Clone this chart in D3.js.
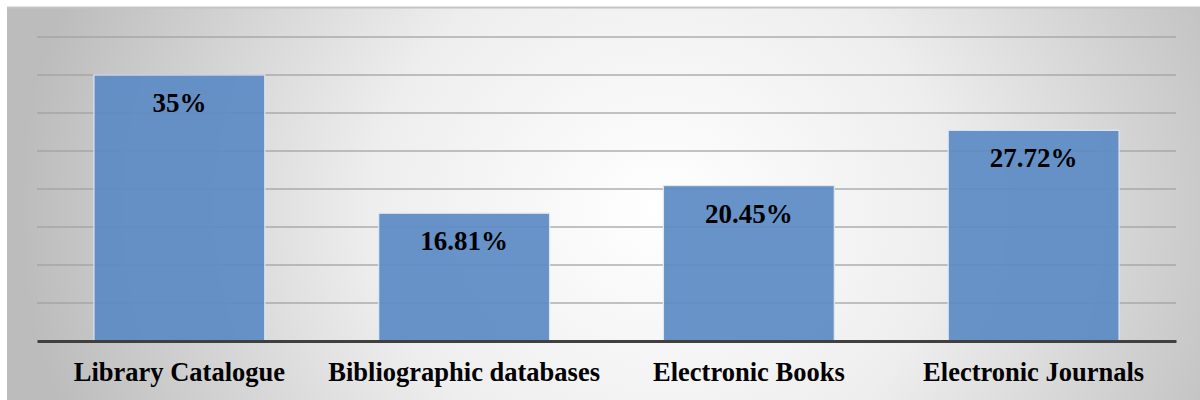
<!DOCTYPE html>
<html>
<head>
<meta charset="utf-8">
<script src="https://cdn.jsdelivr.net/npm/d3@7/dist/d3.min.js"></script>
<style>
  html, body { margin: 0; padding: 0; background: #ffffff; }
  svg { display: block; }
</style>
</head>
<body>
<script>
// Share of respondents by information source used
const categories = ["Library Catalogue", "Bibliographic databases", "Electronic Books", "Electronic Journals"];
const values = [35, 16.81, 20.45, 27.72];
const valueLabels = ["35%", "16.81%", "20.45%", "27.72%"];
const gridTicks = [0, 5, 10, 15, 20, 25, 30, 35, 40];

const W = 1200, H = 400;
const svg = d3.select("body").append("svg").attr("width", W).attr("height", H);

// soft radial backdrop
const defs = svg.append("defs");
const grad = defs.append("radialGradient")
  .attr("id", "bg").attr("gradientUnits", "userSpaceOnUse")
  .attr("cx", 660).attr("cy", 210).attr("r", 640)
  .attr("gradientTransform", "translate(660,210) scale(1,0.9) translate(-660,-210)");
grad.append("stop").attr("offset", "0%").attr("stop-color", "#ffffff");
grad.append("stop").attr("offset", "45%").attr("stop-color", "#eeeeee");
grad.append("stop").attr("offset", "100%").attr("stop-color", "#bcbcbc");

svg.append("rect").attr("x", 7).attr("y", 7).attr("width", W - 7).attr("height", H - 7)
  .attr("fill", "url(#bg)");
svg.append("line").attr("x1", 7).attr("x2", W).attr("y1", 7.5).attr("y2", 7.5)
  .attr("stroke", "#c4c4c4").attr("stroke-width", 2);

const plotLeft = 37, plotRight = 1176, plotTop = 37, plotBottom = 341;

const x = d3.scaleBand().domain(categories).range([plotLeft, plotRight]).paddingInner(0.4).paddingOuter(0.2);
const y = d3.scaleLinear().domain([0, 40]).range([plotBottom, plotTop]);

const serif = "'Liberation Serif', 'Times New Roman', Times, serif";

// horizontal gridlines
svg.append("g").selectAll("line")
  .data(gridTicks.filter(d => d > 0))
  .join("line")
  .attr("x1", plotLeft).attr("x2", plotRight)
  .attr("y1", d => y(d)).attr("y2", d => y(d))
  .attr("stroke", "#a0a0a0").attr("stroke-opacity", 0.85).attr("stroke-width", 1.5);

// bars
svg.append("g").selectAll("rect")
  .data(values)
  .join("rect")
  .attr("x", (d, i) => x(categories[i]))
  .attr("width", x.bandwidth())
  .attr("y", d => y(d))
  .attr("height", d => y(0) - y(d))
  .attr("fill", "#5b8bc4")
  .attr("fill-opacity", 0.93)
  .attr("stroke", "#dfe6ef")
  .attr("stroke-width", 1.2);

// value labels inside bars
svg.append("g").selectAll("text")
  .data(values)
  .join("text")
  .attr("x", (d, i) => x(categories[i]) + x.bandwidth() / 2)
  .attr("y", d => y(d) + 37)
  .attr("text-anchor", "middle")
  .attr("font-family", serif)
  .attr("font-weight", "bold")
  .attr("font-size", 27)
  .attr("fill", "#000")
  .text((d, i) => valueLabels[i]);

// baseline axis
const xAxis = d3.axisBottom(x).tickSize(0).tickPadding(21);
const ax = svg.append("g").attr("transform", `translate(0,${plotBottom})`).call(xAxis);
ax.select(".domain").attr("stroke", "#404040").attr("stroke-width", 3);
ax.selectAll("text")
  .attr("font-family", serif)
  .attr("font-weight", "bold")
  .attr("font-size", 26.5)
  .attr("fill", "#000");
</script>
</body>
</html>
